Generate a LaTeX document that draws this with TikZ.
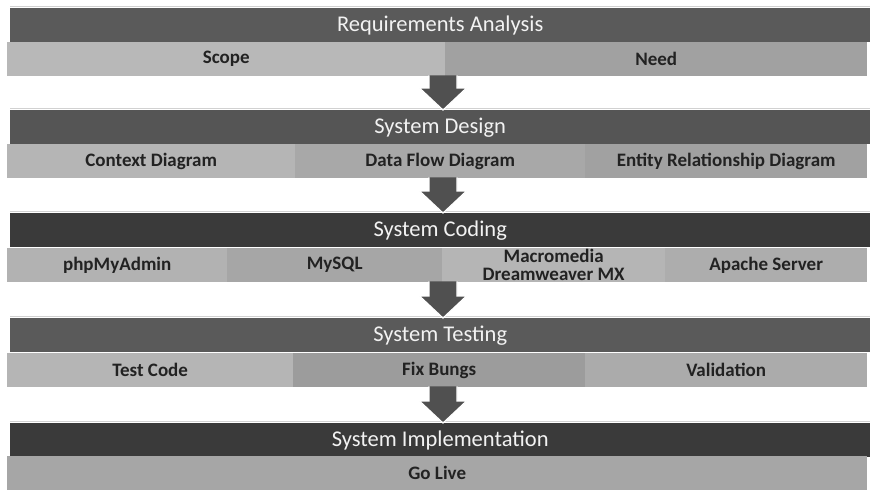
\documentclass[tikz,border=0pt]{standalone}
\usepackage{fontspec}
\setmainfont{Carlito}
\usetikzlibrary{calc}

\definecolor{hdrmid}{HTML}{5A5A5A}
\definecolor{hdrdark}{HTML}{3A3A3A}
\definecolor{arrowgray}{HTML}{505050}
\definecolor{segtext}{HTML}{222222}
\definecolor{hdrtext}{HTML}{F2F2F2}

\tikzset{
  hdr/.style={rectangle, anchor=north west, inner sep=0pt,
    minimum width=860pt, minimum height=34pt, text=hdrtext,
    font=\fontsize{22.5}{24}\selectfont},
  seg/.style={rectangle, anchor=north west, inner sep=0pt,
    minimum height=34pt, text=segtext, align=center,
    font=\bfseries\fontsize{19}{18}\selectfont},
  flowarrow/.style={fill=arrowgray, draw=white, line width=1.2pt, line join=miter},
  rimline/.style={draw=black!18, line width=0.6pt},
}

% block arrow from the bottom of one stage to the top of the next
\newcommand\stagearrow[2]{%
  \draw[flowarrow]
    ($(axis |- #1.south)+(-14,-1)$) --
    ($(axis |- #2.north)+(-14,-22)$) --
    ($(axis |- #2.north)+(-23.5,-22)$) --
    (axis |- #2.north) --
    ($(axis |- #2.north)+(23.5,-22)$) --
    ($(axis |- #2.north)+(14,-22)$) --
    ($(axis |- #1.south)+(14,-1)$);
}

\begin{document}
\begin{tikzpicture}[x=1pt, y=-1pt]
  \useasboundingbox (0,0) rectangle (870,493);
  \fill[white] (0,0) rectangle (870,493);
  \coordinate (axis) at (443,0);

  % Stage 1
  \draw[rimline] (10,6) -- (870,6);
  \node[hdr, fill=hdrmid] (h1) at (10,8) {Requirements Analysis};
  \node[seg, fill=black!28, minimum width=438pt] (s1a) at (7,42) {Scope};
  \node[seg, fill=black!37, minimum width=422pt] (s1b) at (445,42) {Need};

  % Stage 2
  \draw[rimline] (10,108) -- (870,108);
  \node[hdr, fill=hdrmid!95!black] (h2) at (10,110) {System Design};
  \node[seg, fill=black!29, minimum width=288pt] (s2a) at (7,144) {Context Diagram};
  \node[seg, fill=black!34, minimum width=290pt] (s2b) at (295,144) {Data Flow Diagram};
  \node[seg, fill=black!37, minimum width=282pt] (s2c) at (585,144) {Entity Relationship Diagram};

  % Stage 3
  \draw[rimline] (10,211) -- (870,211);
  \node[hdr, fill=hdrdark] (h3) at (10,213) {System Coding};
  \node[seg, fill=black!30, minimum width=220pt] (s3a) at (7,248) {phpMyAdmin};
  \node[seg, fill=black!35, minimum width=215pt] (s3b) at (227,248) {MySQL};
  \node[seg, fill=black!29, minimum width=223pt] (s3c) at (442,248) {Macromedia\\Dreamweaver MX};
  \node[seg, fill=black!32, minimum width=202pt] (s3d) at (665,248) {Apache Server};

  % Stage 4
  \draw[rimline] (10,316) -- (870,316);
  \node[hdr, fill=hdrmid] (h4) at (10,318) {System Testing};
  \node[seg, fill=black!29, minimum width=286pt] (s4a) at (7,353) {Test Code};
  \node[seg, fill=black!39, minimum width=292pt] (s4b) at (293,353) {Fix Bungs};
  \node[seg, fill=black!33, minimum width=282pt] (s4c) at (585,353) {Validation};

  % Stage 5
  \draw[rimline] (10,421) -- (870,421);
  \node[hdr, fill=hdrdark] (h5) at (10,423) {System Implementation};
  \node[seg, fill=black!35, minimum width=860pt] (s5) at (7,456) {Go Live};

  % arrows between stages
  \stagearrow{s1a}{h2}
  \stagearrow{s2a}{h3}
  \stagearrow{s3a}{h4}
  \stagearrow{s4a}{h5}
\end{tikzpicture}
\end{document}
